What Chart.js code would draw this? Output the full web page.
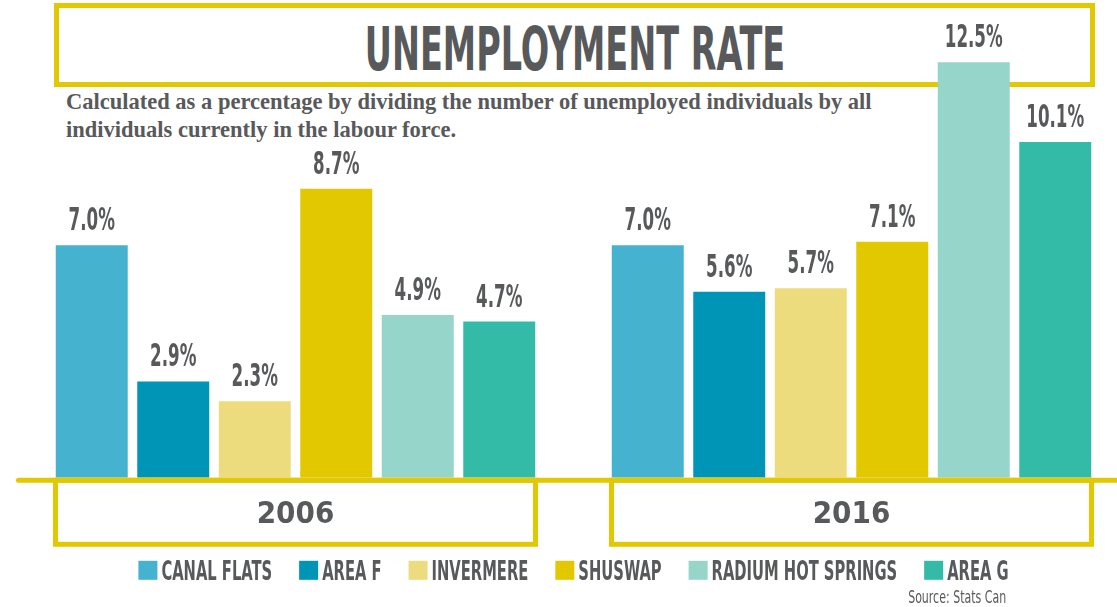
<!DOCTYPE html>
<html>
<head>
<meta charset="utf-8">
<title>Unemployment Rate</title>
<script src="https://cdn.jsdelivr.net/npm/chart.js@4.4.1/dist/chart.umd.min.js"></script>
<style>
  html, body { margin: 0; padding: 0; background: #fff; overflow: hidden; }
  #wrap { position: relative; width: 1117px; height: 607px; overflow: hidden; }
  #titleBox {
    position: absolute; left: 54px; top: 3px; width: 1041px; height: 84px;
    border: 5px solid #e2c800; box-sizing: border-box;
  }
  #title {
    position: absolute; left: 575px; top: 19px; white-space: nowrap;
    font: bold 60px/60px "Liberation Sans Narrow", "DejaVu Sans Condensed", sans-serif;
    color: #58595b; transform: translateX(-50%) scaleX(0.62);
  }
  #subtitle {
    position: absolute; left: 66px; top: 88px; white-space: nowrap;
    font: bold 22.5px/28px "Liberation Serif", "DejaVu Serif", serif;
    color: #58595b;
  }
  #source {
    position: absolute; right: 111px; top: 588px; white-space: nowrap;
    font: 18px/18px "Liberation Sans Narrow", "DejaVu Sans Condensed", sans-serif;
    color: #58595b; transform-origin: right center; transform: scaleX(0.68);
  }
  #chart { position: absolute; left: 0; top: 0; }
</style>
</head>
<body>
<div id="wrap">
  <div id="titleBox"></div>
  <div id="title">UNEMPLOYMENT RATE</div>
  <div id="subtitle">Calculated as a percentage by dividing the number of unemployed individuals by all<br>individuals currently in the labour force.</div>
  <canvas id="chart" width="1140" height="608"></canvas>
  <div id="source">Source: Stats Can</div>
</div>
<script>
// donnees (taux de chomage, %)
const years = ['2006', '2016'];
const places = ['CANAL FLATS', 'AREA F', 'INVERMERE', 'SHUSWAP', 'RADIUM HOT SPRINGS', 'AREA G'];
const canalFlats = [7.0, 7.0];
const areaF = [2.9, 5.6];
const invermere = [2.3, 5.7];
const shuswap = [8.7, 7.1];
const radiumHotSprings = [4.9, 12.5];
const areaG = [4.7, 10.1];

const series = [canalFlats, areaF, invermere, shuswap, radiumHotSprings, areaG];
const colors = ['#45b3cf', '#0094b6', '#ecdc7e', '#e2c800', '#96d5ca', '#34bba8'];
const yellow = '#e2c800';
const grey = '#58595b';
const narrow = '"Liberation Sans Narrow", "DejaVu Sans Condensed", sans-serif';
const catPct = 0.8795;
const squeeze = 0.63;   // compression horizontale du texte de legende

// etiquettes de valeur au-dessus des barres
const valueLabels = {
  id: 'valueLabels',
  afterDatasetsDraw(chart) {
    const ctx = chart.ctx;
    ctx.save();
    ctx.fillStyle = grey;
    ctx.font = 'bold 32px ' + narrow;
    ctx.textAlign = 'center';
    ctx.textBaseline = 'alphabetic';
    chart.data.datasets.forEach((ds, i) => {
      chart.getDatasetMeta(i).data.forEach((bar, j) => {
        ctx.save();
        ctx.translate(bar.x, bar.y - 15);
        ctx.scale(0.58, 1);
        ctx.fillText(ds.data[j].toFixed(1) + '%', 0, 0);
        ctx.restore();
      });
    });
    ctx.restore();
  }
};

// ligne de base jaune + cadres autour des annees
const groupFrames = {
  id: 'groupFrames',
  afterDraw(chart) {
    const { ctx, chartArea, scales: { x } } = chart;
    const y0 = chartArea.bottom;
    ctx.save();
    ctx.strokeStyle = yellow;
    ctx.lineWidth = 5;
    ctx.lineCap = 'round';
    ctx.beginPath();
    ctx.moveTo(chartArea.left + 1, y0 + 2.5);
    ctx.lineTo(chart.width, y0 + 2.5);
    ctx.stroke();
    ctx.lineCap = 'butt';
    const half = x.width / years.length * catPct / 2 - 2;
    years.forEach((_, i) => {
      const cx = x.getPixelForValue(i);
      ctx.strokeRect(cx - half + 2.5, y0 + 2.5, 2 * half - 5, 64);
    });
    ctx.restore();
  }
};

// legende en bas, dessinee a partir des jeux de donnees
const bottomLegend = {
  id: 'bottomLegend',
  afterDraw(chart) {
    const { ctx, chartArea } = chart;
    const sq = 19, gap = 4, pad = 27;
    ctx.save();
    ctx.font = 'bold 26px ' + narrow;
    ctx.textAlign = 'left';
    ctx.textBaseline = 'alphabetic';
    const items = chart.data.datasets.map(ds => ({
      text: ds.label,
      color: ds.backgroundColor,
      w: ctx.measureText(ds.label).width * squeeze
    }));
    const total = items.reduce((s, it) => s + sq + gap + it.w, 0) + pad * (items.length - 1);
    let x = (chartArea.left + chartArea.right) / 2 - total / 2;
    const top = chartArea.bottom + 83;
    items.forEach(it => {
      ctx.fillStyle = it.color;
      ctx.fillRect(x, top, sq, sq);
      ctx.fillStyle = grey;
      ctx.save();
      ctx.translate(x + sq + gap, top + sq);
      ctx.scale(squeeze, 1);
      ctx.fillText(it.text, 0, 0);
      ctx.restore();
      x += sq + gap + it.w + pad;
    });
    ctx.restore();
  }
};

new Chart(document.getElementById('chart'), {
  type: 'bar',
  data: {
    labels: years,
    datasets: places.map((name, i) => ({
      label: name,
      data: series[i],
      backgroundColor: colors[i],
      borderWidth: 0,
      categoryPercentage: catPct,
      barPercentage: 0.883
    }))
  },
  options: {
    responsive: false,
    animation: false,
    layout: { padding: { top: 59, left: 17.5, right: 10.5, bottom: 55 } },
    scales: {
      x: {
        grid: { display: false, drawTicks: false },
        border: { display: false },
        ticks: {
          padding: 19,
          color: grey,
          font: { family: narrow, size: 31, weight: 'bold' }
        }
      },
      y: {
        display: false,
        min: 0,
        max: 12.6
      }
    },
    plugins: {
      legend: { display: false },
      tooltip: { enabled: false }
    }
  },
  plugins: [valueLabels, groupFrames, bottomLegend]
});
</script>
</body>
</html>
